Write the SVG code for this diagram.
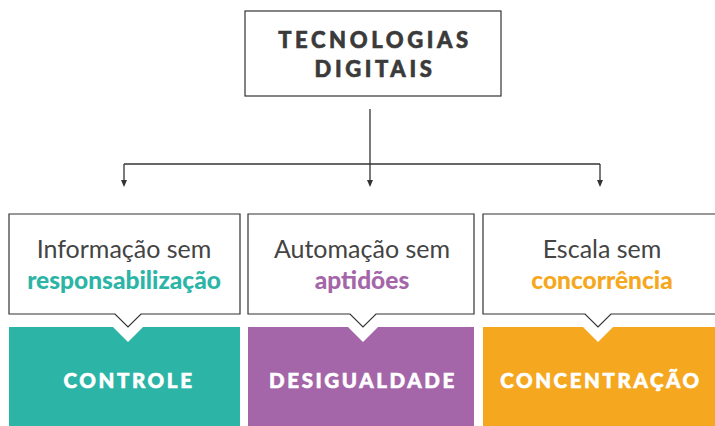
<svg xmlns="http://www.w3.org/2000/svg" width="715" height="426" viewBox="0 0 715 426">
<defs>
<style>
.box{fill:#fff;stroke:#333;stroke-width:1.2}
.title{font-family:Lato,"Liberation Sans",sans-serif;font-weight:900;font-size:22px;fill:#3a3a3a;stroke:#3a3a3a;stroke-width:0.6;letter-spacing:3.6px;text-anchor:middle}
.lt{font-family:Lato,"Liberation Sans",sans-serif;font-weight:400;font-size:25px;fill:#444;text-anchor:middle}
.bd{font-family:Lato,"Liberation Sans",sans-serif;font-weight:900;font-size:24.5px;text-anchor:middle}
.cap{font-family:Lato,"Liberation Sans",sans-serif;font-weight:900;font-size:20.5px;fill:#fff;stroke:#fff;stroke-width:0.6;letter-spacing:2.6px;text-anchor:middle}
.line{fill:none;stroke:#333;stroke-width:1.3}
.ah{fill:#333}
</style>
</defs>
<g id="n-top">
<rect class="box" x="245" y="11" width="256" height="85"/>
<text class="title" x="375" y="48">TECNOLOGIAS</text>
<text class="title" x="375" y="77">DIGITAIS</text>
</g>
<g id="connectors">
<path class="line" d="M370,109 V181"/>
<path class="line" d="M124,164 H600"/>
<path class="line" d="M124,164 V181"/>
<path class="line" d="M600,164 V181"/>
<path class="ah" d="M121,180 H127 L124,187 Z"/>
<path class="ah" d="M367,180 H373 L370,187 Z"/>
<path class="ah" d="M597,180 H603 L600,187 Z"/>
</g>
<g id="n-controle">
<path class="box" d="M9,214 H240 V314 H141 L128,327 L115,314 H9 Z"/>
<text class="lt" x="124" y="258">Informação sem</text>
<text class="bd" x="124" y="289" fill="#2cb5a7">responsabilização</text>
<path d="M9,327 H113 L128,342 L143,327 H240 V426 H9 Z" fill="#2cb5a7"/>
<text class="cap" x="129" y="388">CONTROLE</text>
</g>
<g id="n-desigualdade">
<path class="box" d="M248,214 H474 V314 H376 L363,327 L350,314 H248 Z"/>
<text class="lt" x="362" y="258">Automação sem</text>
<text class="bd" x="362" y="289" fill="#a466a8">aptidões</text>
<path d="M248,327 H348 L363,342 L378,327 H474 V426 H248 Z" fill="#a466a8"/>
<text class="cap" x="363" y="388">DESIGUALDADE</text>
</g>
<g id="n-concentracao">
<path class="box" d="M483,214 H716 V314 H611 L598,327 L585,314 H483 Z"/>
<text class="lt" x="602" y="258">Escala sem</text>
<text class="bd" x="602" y="289" fill="#f6a720">concorrência</text>
<path d="M483,327 H583 L598,342 L613,327 H715 V426 H483 Z" fill="#f6a720"/>
<text class="cap" x="601" y="388">CONCENTRAÇÃO</text>
</g>
</svg>
